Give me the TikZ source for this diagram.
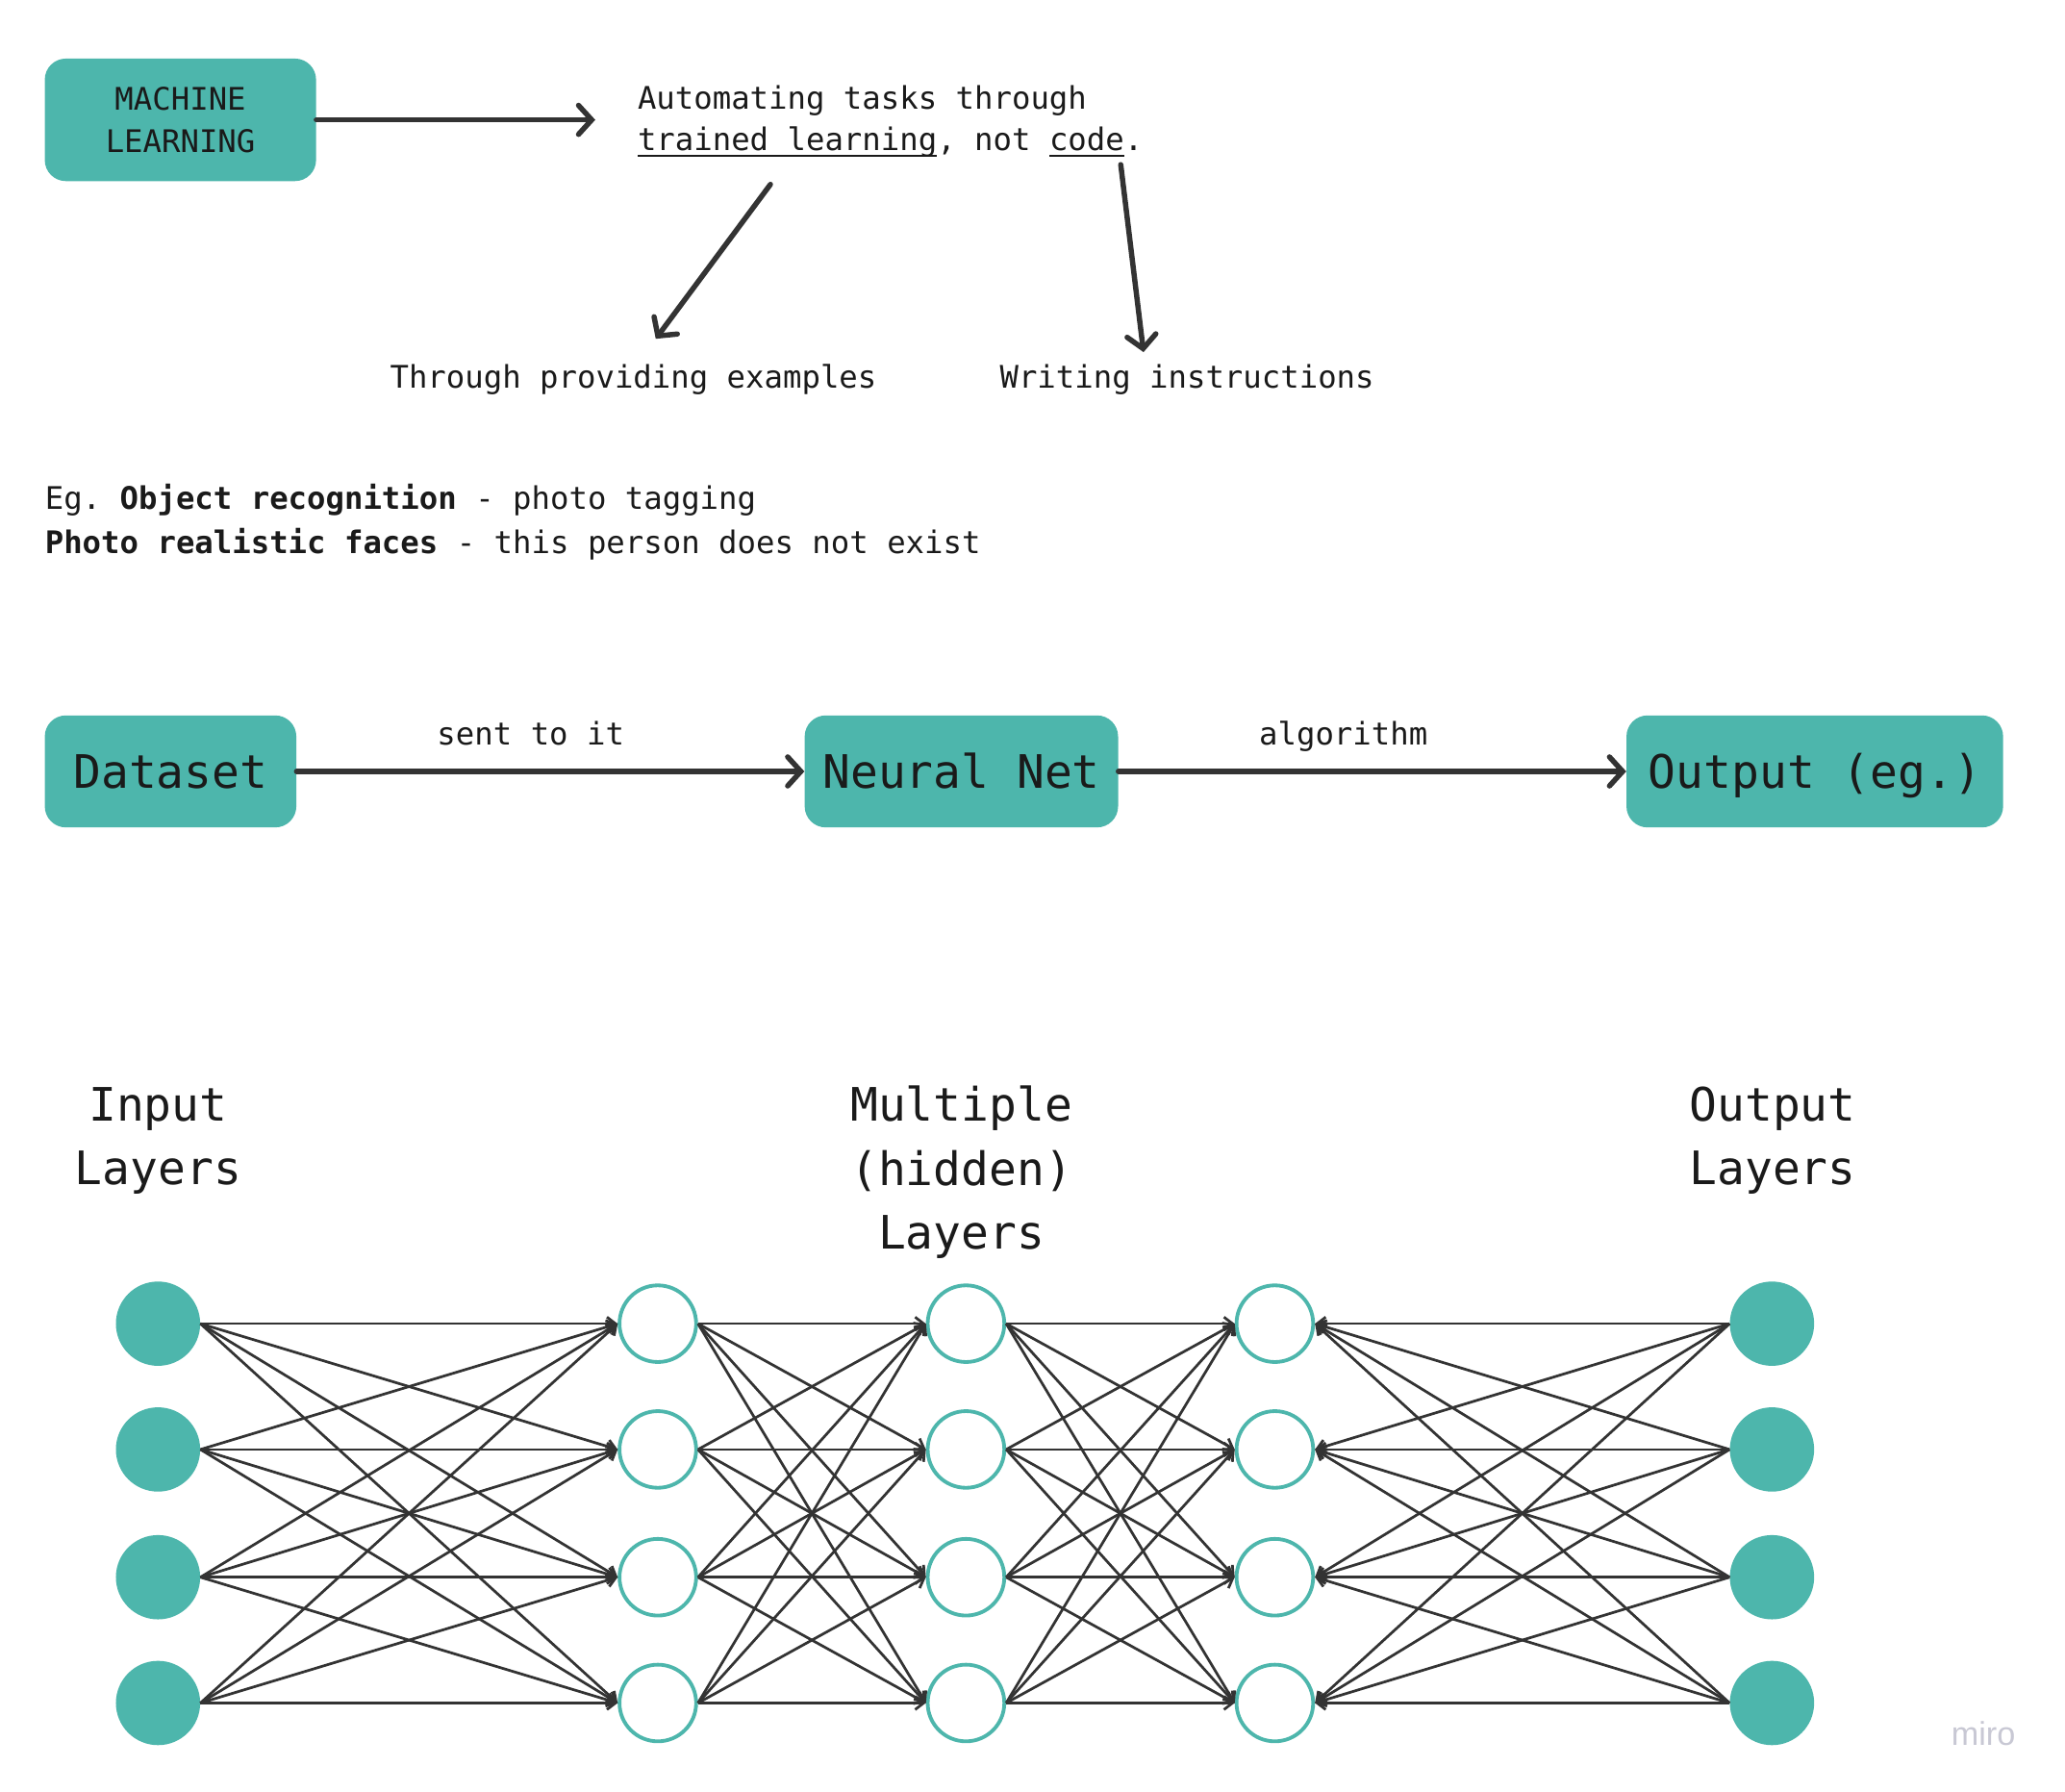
\documentclass[tikz,border=0pt]{standalone}
\usepackage{fontspec}
\setmainfont{DejaVu Sans Mono}
\setmonofont{DejaVu Sans Mono}
\newfontfamily\logofont{Liberation Sans}
\usetikzlibrary{arrows.meta}
\definecolor{teal1}{RGB}{77,182,172}
\definecolor{ink}{RGB}{26,26,26}
\definecolor{arr}{RGB}{51,51,51}
\definecolor{logogray}{RGB}{200,200,212}
\newcommand\smallfs{\fontsize{23.6}{31.6}\selectfont}
\newcommand\bigfs{\fontsize{35}{48.4}\selectfont}
\newcommand\myul[1]{\sbox0{#1}\rlap{\rule[-4.7pt]{\wd0}{1.6pt}}\usebox0}
\frenchspacing
\begin{document}
\begin{tikzpicture}[x=1pt,y=-1pt,
  every node/.append style={text=ink},
  box/.style={fill=teal1, rounded corners=16pt, inner sep=0pt},
  bigarrow/.style={draw=arr, line width=4pt, line cap=round,
    -{Straight Barb[length=10pt,width=22pt,line cap=round]}},
  txt/.style={inner sep=0pt, font=\smallfs},
  layerlbl/.style={inner sep=0pt, font=\bigfs, align=center},
  full/.style={circle, fill=teal1, minimum size=64pt, inner sep=0pt},
  hid/.style={circle, draw=teal1, line width=2.8pt, fill=white, minimum size=58.2pt, inner sep=0pt},
  link/.style={draw=arr, line width=2pt, -{Straight Barb[length=6.5pt,width=10pt]}}]
\fill[white] (0,0) rectangle (1568,1360);
\useasboundingbox (0,0) rectangle (1568,1360);

% --- top section
\node[box, minimum width=206pt, minimum height=93pt, align=center, font=\smallfs] (ml) at (137,91) {MACHINE\\LEARNING};
\node[txt, anchor=west, align=left] (auto) at (484,92) {Automating tasks through\\\myul{trained learning}, not \myul{code}.};
\draw[bigarrow, shorten >=32pt] (ml.east) -- (ml.east -| auto.west);

\node[txt, anchor=base west] (ex) at (296,294.5) {Through providing examples};
\node[txt, anchor=base west] (wr) at (759,294.5) {Writing instructions};
\coordinate (d1) at (585,140);
\coordinate (d2) at (851,125);
\draw[bigarrow] (d1) -- ([xshift=17pt,yshift=19pt]ex.north);
\draw[bigarrow] (d2) -- ([xshift=-33pt,yshift=9pt]wr.north);

\node[txt, anchor=base west] (eg1) at (34,387) {Eg. \textbf{Object recognition} - photo tagging};
\node[txt, anchor=base west] (eg2) at (34,420.4) {\textbf{Photo realistic faces} - this person does not exist};

% --- pipeline
\node[box, minimum width=191pt, minimum height=85pt, font=\bigfs, text height=25pt, text depth=0pt] (ds) at (129.5,585.7) {Dataset};
\node[box, minimum width=238pt, minimum height=85pt, font=\bigfs, text height=25pt, text depth=0pt] (nn) at (730,585.7) {Neural Net};
\node[box, minimum width=286pt, minimum height=85pt, font=\bigfs, text height=25pt, text depth=0pt] (out) at (1378,585.7) {Output (eg.)};
\draw[bigarrow] (ds.east) -- node[txt, pos=0.461, anchor=base, yshift=20pt] (l1) {sent to it} (nn.west);
\draw[bigarrow] (nn.east) -- node[txt, pos=0.443, anchor=base, yshift=20pt] (l2) {algorithm} (out.west);

% --- layer labels
\node[layerlbl] (lin) at (120,866) {Input\\Layers};
\node[layerlbl] (lhid) at (730,890) {Multiple\\(hidden)\\Layers};
\node[layerlbl] (lout) at (1346,866) {Output\\Layers};

% --- network
\foreach \r/\y in {1/1005,2/1100.5,3/1197.5,4/1293}{
  \node[full] (i\r) at (120,\y) {};
  \node[hid] (a\r) at (499.5,\y) {};
  \node[hid] (b\r) at (733.5,\y) {};
  \node[hid] (c\r) at (968,\y) {};
  \node[full] (o\r) at (1345.5,\y) {};
}
\foreach \p in {1,...,4}{
  \foreach \q in {1,...,4}{
    \draw[link] (i\p.east) -- (a\q.west);
    \draw[link] (a\p.east) -- (b\q.west);
    \draw[link] (b\p.east) -- (c\q.west);
    \draw[link] (o\p.west) -- (c\q.east);
  }
}

\node[inner sep=0pt, font=\logofont\fontsize{25}{25}\selectfont, text=logogray] (miro) at (1506,1316) {miro};
\end{tikzpicture}
\end{document}
